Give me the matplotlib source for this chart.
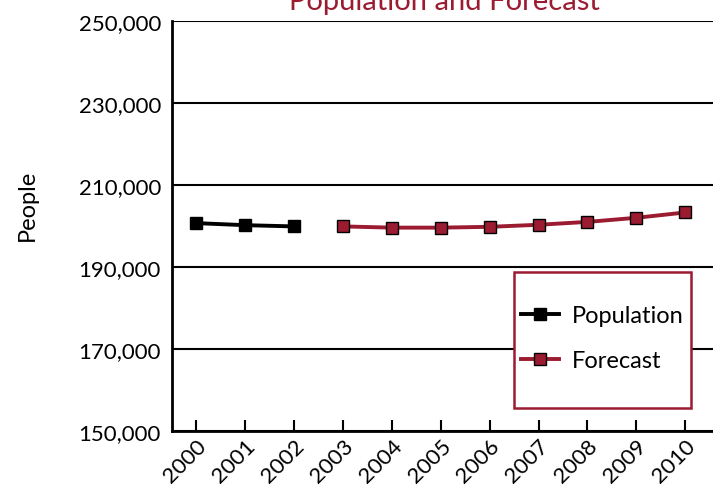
import matplotlib.pyplot as plt
import numpy as np
from matplotlib.ticker import FuncFormatter
from matplotlib.patches import Rectangle

# Data
pop_years = [2000, 2001, 2002]
pop_values = [200700, 200200, 199900]
fc_years = [2003, 2004, 2005, 2006, 2007, 2008, 2009, 2010]
fc_values = [199900, 199600, 199600, 199800, 200300, 201000, 202000, 203300]
y_ticks = [150000, 170000, 190000, 210000, 230000, 250000]

red = '#9b1b30'
plt.rcParams['font.family'] = ['Lato', 'DejaVu Sans']

W, H = 713, 489
fig = plt.figure(figsize=(W / 100, H / 100), dpi=100)
ax = fig.add_axes([172 / W, 1 - 432 / H, (W - 172) / W, (432 - 22) / H])

ax.plot(pop_years, pop_values, color='black', lw=2.8, marker='s', ms=9,
        mfc='black', mec='black', label='Population')
ax.plot(fc_years, fc_values, color=red, lw=2.8, marker='s', ms=9,
        mfc=red, mec='black', mew=1, label='Forecast')

ax.set_ylim(150000, 250000)
ax.set_xlim(1999.5, 2010.57)
ax.set_yticks(y_ticks)
ax.yaxis.set_major_formatter(FuncFormatter(lambda v, p: f'{int(v):,}'))
ax.set_xticks(pop_years + fc_years)
ax.set_xticklabels([str(y) for y in pop_years + fc_years], rotation=45,
                   ha='right', rotation_mode='anchor', fontsize=16)
ax.tick_params(axis='x', direction='in', length=8, width=1.5, pad=3)
ax.tick_params(axis='y', length=0, labelsize=16, pad=8)

ax.yaxis.grid(True, color='black', lw=1.5)
ax.set_axisbelow(True)
for s in ['top', 'right']:
    ax.spines[s].set_visible(False)
ax.spines['left'].set_linewidth(2)
ax.spines['bottom'].set_linewidth(2)

ax.set_ylabel('People', fontsize=17)
ax.yaxis.set_label_coords((38 - 172) / (W - 172), (432 - 205) / (432 - 22))
fig.text(444 / W, 1 - 2 / H, 'Population and Forecast', color=red, fontsize=21,
         ha='center', va='center')

# legend box drawn separately to match its uneven padding
box = Rectangle((514 / W, 1 - 409 / H), (691 - 514) / W, (409 - 273) / H,
                transform=fig.transFigure, facecolor='white',
                edgecolor=red, lw=1.8, zorder=4, clip_on=False)
ax.add_artist(box)
leg = ax.legend(loc='center left', bbox_to_anchor=((521 - 172) / (W - 172), (432 - 339) / (432 - 22)),
                fontsize=17, frameon=False, borderpad=0, handlelength=1.6,
                handletextpad=0.55, labelspacing=1.0, borderaxespad=0)
leg.set_zorder(6)

plt.savefig('out.png', dpi=100)
